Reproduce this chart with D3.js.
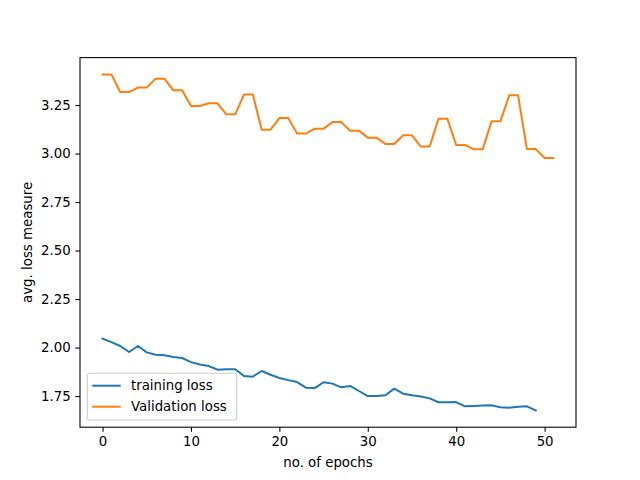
<!DOCTYPE html>
<html>
<head>
<meta charset="utf-8">
<script src="https://cdn.jsdelivr.net/npm/d3@7"></script>
<style>
  body { margin: 0; background: #fff; }
  text { font-family: "DejaVu Sans", sans-serif; }
</style>
</head>
<body>
<div id="viz"></div>
<script>
const trainingLoss = [
  2.046, 2.028, 2.008, 1.977, 2.008, 1.975, 1.963, 1.960, 1.951, 1.946,
  1.925, 1.913, 1.905, 1.886, 1.888, 1.888, 1.853, 1.850, 1.879, 1.860,
  1.843, 1.832, 1.822, 1.793, 1.791, 1.821, 1.814, 1.795, 1.802, 1.776,
  1.750, 1.750, 1.754, 1.788, 1.762, 1.754, 1.748, 1.738, 1.718, 1.718,
  1.719, 1.697, 1.699, 1.701, 1.702, 1.692, 1.690, 1.695, 1.697, 1.676
];
const validationLoss = [
  3.408, 3.408, 3.317, 3.317, 3.340, 3.340, 3.386, 3.386, 3.326, 3.326,
  3.245, 3.245, 3.259, 3.259, 3.202, 3.202, 3.304, 3.304, 3.123, 3.123,
  3.183, 3.183, 3.103, 3.103, 3.128, 3.128, 3.162, 3.162, 3.118, 3.118,
  3.082, 3.082, 3.049, 3.049, 3.094, 3.094, 3.036, 3.036, 3.180, 3.180,
  3.044, 3.044, 3.022, 3.022, 3.166, 3.166, 3.300, 3.300, 3.023, 3.023,
  2.977, 2.977
];
const xTicks = [0, 10, 20, 30, 40, 50];
const yTicks = [1.75, 2.00, 2.25, 2.50, 2.75, 3.00, 3.25];
const seriesNames = ["training loss", "Validation loss"];
const colors = ["#1f77b4", "#ff7f0e"];

const W = 640, H = 480;
const margin = {top: 57.6, right: 64, bottom: 52.8, left: 80};
const width = W - margin.left - margin.right;
const height = H - margin.top - margin.bottom;

const svg = d3.select("#viz")
  .append("svg")
    .attr("width", W)
    .attr("height", H)
  .append("g")
    .attr("transform", `translate(${margin.left},${margin.top})`);

// matplotlib-style 5% margins
const allVals = trainingLoss.concat(validationLoss);
const yMin = d3.min(allVals), yMax = d3.max(allVals);
const yPad = (yMax - yMin) * 0.05;
const xMax = validationLoss.length - 1;
const xPad = xMax * 0.05;

const x = d3.scaleLinear()
  .domain([-xPad, xMax + xPad])
  .range([0, width]);

const y = d3.scaleLinear()
  .domain([yMin - yPad, yMax + yPad])
  .range([height, 0]);

const tickLen = 4.67;
const fontSize = "13.33px";

const xAxis = svg.append("g")
  .attr("transform", `translate(0,${height})`)
  .call(d3.axisBottom(x).tickValues(xTicks).tickSize(tickLen).tickPadding(4.67).tickSizeOuter(0));

const yAxis = svg.append("g")
  .call(d3.axisLeft(y).tickValues(yTicks).tickFormat(d3.format(".2f")).tickSize(tickLen).tickPadding(4.67).tickSizeOuter(0));

[xAxis, yAxis].forEach(a => {
  a.attr("font-family", "DejaVu Sans").attr("font-size", fontSize);
  a.select(".domain").remove();
  a.selectAll(".tick line").attr("stroke", "#000").attr("stroke-width", 1.07);
  a.selectAll(".tick text").attr("fill", "#000");
});

const line = d3.line()
  .x((d, i) => x(i))
  .y(d => y(d));

[trainingLoss, validationLoss].forEach((series, k) => {
  svg.append("path")
    .datum(series)
    .attr("fill", "none")
    .attr("stroke", colors[k])
    .attr("stroke-width", 2)
    .attr("stroke-linejoin", "round")
    .attr("stroke-linecap", "square")
    .attr("d", line);
});

// axes frame
svg.append("rect")
  .attr("x", 0)
  .attr("y", 0)
  .attr("width", width)
  .attr("height", height)
  .attr("fill", "none")
  .attr("stroke", "#000")
  .attr("stroke-width", 1.07);

svg.append("text")
  .attr("x", width / 2)
  .attr("y", height + 39.5)
  .attr("text-anchor", "middle")
  .style("font-size", fontSize)
  .text("no. of epochs");

svg.append("text")
  .attr("transform", "rotate(-90)")
  .attr("x", -height / 2)
  .attr("y", -48)
  .attr("text-anchor", "middle")
  .style("font-size", fontSize)
  .text("avg. loss measure");

// legend
const legend = svg.append("g")
  .attr("transform", `translate(7.3, ${height - 53.9})`);

legend.append("rect")
  .attr("width", 149.4)
  .attr("height", 46.7)
  .attr("rx", 2.5)
  .attr("fill", "#fff")
  .attr("fill-opacity", 0.8)
  .attr("stroke", "#cccccc")
  .attr("stroke-width", 1.07);

seriesNames.forEach((name, i) => {
  const ly = 12.4 + i * 21;
  legend.append("line")
    .attr("x1", 5)
    .attr("x2", 33.4)
    .attr("y1", ly)
    .attr("y2", ly)
    .attr("stroke", colors[i])
    .attr("stroke-width", 2);
  legend.append("text")
    .attr("x", 43.7)
    .attr("y", ly)
    .attr("dy", "0.35em")
    .style("font-size", fontSize)
    .text(name);
});
</script>
</body>
</html>
